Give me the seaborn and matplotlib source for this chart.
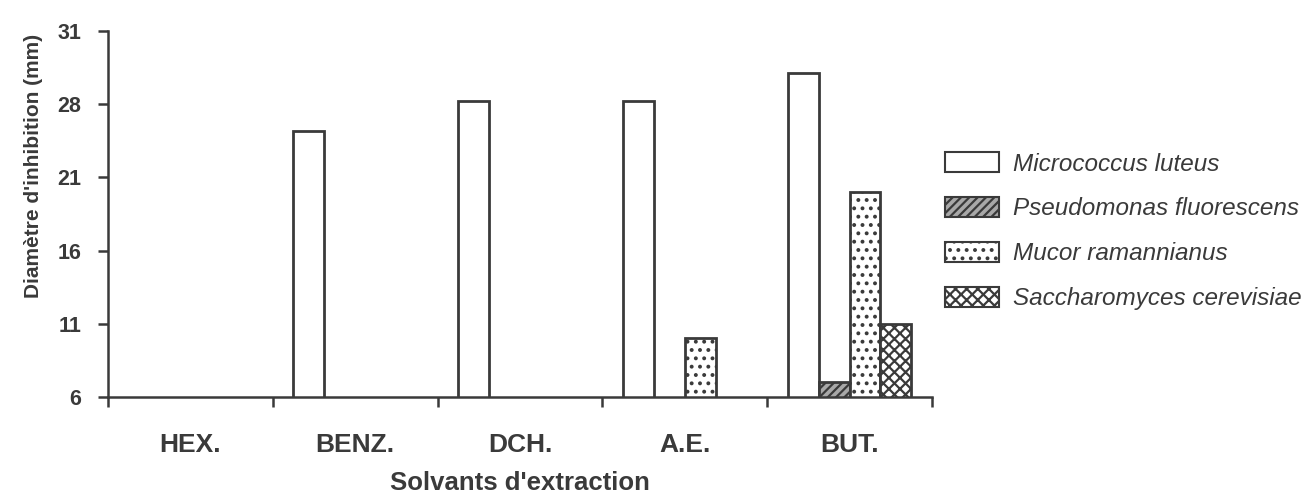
import numpy as np
import pandas as pd
import matplotlib
matplotlib.use("Agg")
import matplotlib.pyplot as plt
from matplotlib.patches import Patch
import seaborn as sns

# Values (NaN = no inhibition zone)
solvants = ["HEX.", "BENZ.", "DCH.", "A.E.", "BUT."]
micrococcus = [np.nan, 24.2, 26.2, 26.2, 28.1]
pseudomonas = [np.nan, np.nan, np.nan, np.nan, 7.0]
mucor = [np.nan, np.nan, np.nan, 10.0, 20.0]
saccharomyces = [np.nan, np.nan, np.nan, np.nan, 11.0]

especes = ["Micrococcus luteus", "Pseudomonas fluorescens",
           "Mucor ramannianus", "Saccharomyces cerevisiae"]
y_ticks = [6, 11, 16, 21, 26, 31]
y_tick_labels = ["6", "11", "16", "21", "28", "31"]

df = pd.DataFrame({
    "solvant": solvants * 4,
    "espece": np.repeat(especes, len(solvants)),
    "diametre": micrococcus + pseudomonas + mucor + saccharomyces,
})

sns.set_style("white")
plt.rcParams["font.family"] = ["Liberation Sans", "DejaVu Sans"]
plt.rcParams["hatch.linewidth"] = 1.6

ink = "#3a3a3a"
styles = [
    dict(facecolor="white", hatch=""),
    dict(facecolor="#a8a8a8", hatch="////"),
    dict(facecolor="white", hatch=".."),
    dict(facecolor="white", hatch="xxx"),
]

fig = plt.figure(figsize=(13.1, 4.96), dpi=100)
ax = fig.add_axes([0.0824, 0.1996, 0.6290, 0.7379])

sns.barplot(data=df, x="solvant", y="diametre", hue="espece", order=solvants,
            hue_order=especes, width=0.75, ax=ax, legend=False)

for cont, st in zip(ax.containers, styles):
    for p in cont.patches:
        p.set_facecolor(st["facecolor"])
        p.set_edgecolor(ink)
        p.set_hatch(st["hatch"])
        p.set_linewidth(2.0)

ax.set_ylim(6, 31)
ax.set_xlim(-0.5, 4.5)
ax.set_yticks(y_ticks)
ax.set_yticklabels(y_tick_labels, fontweight="bold")
for t in ax.get_xticklabels():
    t.set_fontweight("bold")

# category boundary ticks on the x axis
ax.set_xticks(np.arange(-0.5, 5, 1), minor=True)
ax.tick_params(axis="x", which="major", length=0, pad=26, labelsize=19, colors=ink)
ax.tick_params(axis="x", which="minor", length=7, width=1.8, color=ink, direction="out", bottom=True)
ax.tick_params(axis="y", length=7, width=1.8, pad=12, labelsize=15.5, colors=ink, left=True)

for side in ["top", "right"]:
    ax.spines[side].set_visible(False)
for side in ["left", "bottom"]:
    ax.spines[side].set_color(ink)
    ax.spines[side].set_linewidth(1.8)

ax.set_xlabel("Solvants d'extraction", fontsize=18.5, fontweight="bold", color=ink, labelpad=10)
ax.set_ylabel("Diamètre d'inhibition (mm)", fontsize=15, fontweight="bold", color=ink)
ax.yaxis.set_label_coords(-0.079, 0.63)

handles = [Patch(facecolor=st["facecolor"], edgecolor=ink, hatch=st["hatch"], linewidth=1.5)
           for st in styles]
fig.legend(handles, especes, loc="center left", bbox_to_anchor=(0.7214, 0.534),
           frameon=False, prop=dict(size=17.5, style="italic"), labelcolor=ink,
           handlelength=2.2, handleheight=0.9, handletextpad=0.6, labelspacing=0.88,
           borderpad=0, borderaxespad=0)

fig.savefig("out.png", dpi=100)
